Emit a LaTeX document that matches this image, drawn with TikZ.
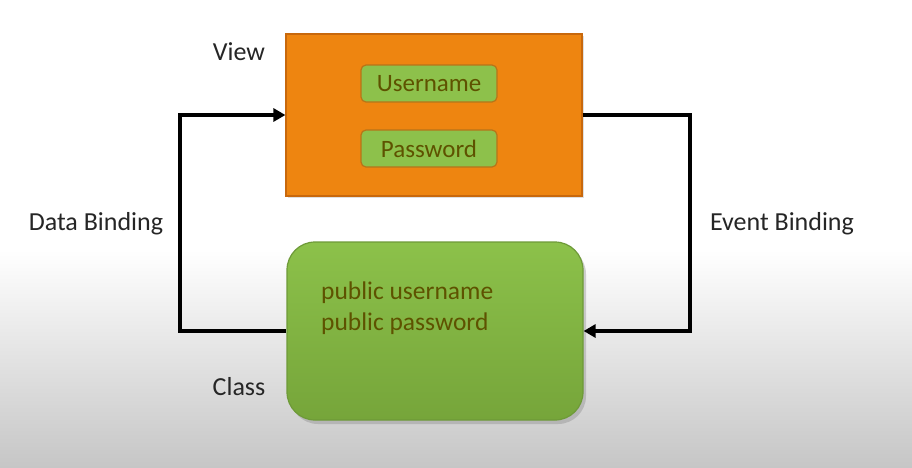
\documentclass[tikz,border=0pt]{standalone}
\usepackage{fontspec}
\setmainfont{Carlito}
\usetikzlibrary{arrows.meta,shadows}
\definecolor{vieworange}{HTML}{EE8510}
\definecolor{viewborder}{HTML}{C8680C}
\definecolor{fieldgreen}{HTML}{8DC14B}
\definecolor{fieldborder}{HTML}{B87418}
\definecolor{oliv}{HTML}{5E5200}
\definecolor{clstop}{HTML}{8CC14A}
\definecolor{clsbot}{HTML}{76A53A}
\definecolor{clsborder}{HTML}{6E9A38}
\definecolor{bggray}{HTML}{C6C6C6}
\tikzset{
  lbl/.style={font=\fontsize{26}{31}\selectfont, text=black!85, inner sep=0pt},
  fieldbox/.style={draw=fieldborder, line width=1.2pt, fill=fieldgreen, rounded corners=5pt,
    minimum width=136pt, minimum height=37pt, inner sep=0pt, text=oliv, font=\fontsize{25}{30}\selectfont},
  conn/.style={line width=4pt, black, -{Triangle[length=12pt,width=13pt]}}
}
\begin{document}
\begin{tikzpicture}[x=1pt,y=-1pt]
\useasboundingbox (0,0) rectangle (912,467);
\fill[white] (0,0) rectangle (912,250);
\shade[top color=white, bottom color=bggray] (0,250) rectangle (912,467);
% view box
\node[draw=viewborder, line width=1.2pt, fill=vieworange, minimum width=296pt, minimum height=162pt,
  inner sep=0pt, drop shadow={opacity=0.25, shadow xshift=2pt, shadow yshift=-2pt}] (view) at (434,115) {};
\node[fieldbox] (user) at (429,83.5) {Username};
\node[fieldbox] (pass) at (429,148.5) {Password};
% class box
\node[draw=clsborder, line width=1.2pt, top color=clstop, bottom color=clsbot, rounded corners=28pt,
  minimum width=296pt, minimum height=178pt, inner sep=0pt,
  drop shadow={opacity=0.35, shadow xshift=3pt, shadow yshift=-4pt}] (cls) at (435,331) {};
\node[anchor=base west, align=left, text=oliv, inner sep=0pt, font=\fontsize{25.5}{31}\selectfont] (fields) at (321,330)
  {public username\\public password};
% labels
\node[lbl] (viewlbl) at (239,52) {View};
\node[lbl] (clslbl) at (239,387) {Class};
\node[lbl] (dblbl) at (96,224) {Data Binding};
\node[lbl] (eblbl) at (782,224) {Event Binding};
% connectors
\draw[conn] (cls.west) -- ++(-106,0) |- (view.west);
\draw[conn] (view.east) -- ++(107,0) |- (cls.east);
\end{tikzpicture}
\end{document}
